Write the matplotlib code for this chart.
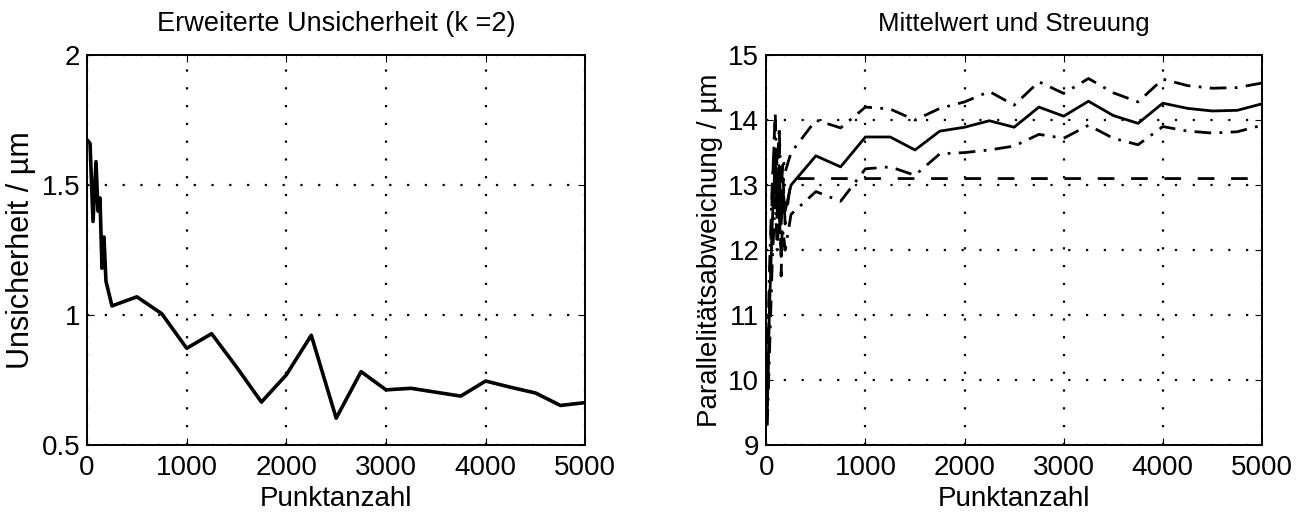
import numpy as np
import matplotlib
matplotlib.use("Agg")
import matplotlib.pyplot as plt

plt.rcParams['font.family'] = ['Liberation Sans', 'DejaVu Sans']

# Punktanzahl (shared x values)
n = [10, 30, 60, 90, 110, 130, 150, 170, 190,
     250, 500, 750, 1000, 1250, 1500, 1750, 2000, 2250, 2500,
     2750, 3000, 3250, 3500, 3750, 4000, 4250, 4500, 4750, 5000]

# left: erweiterte Unsicherheit / um
unsicherheit = [1.67, 1.66, 1.36, 1.59, 1.40, 1.45, 1.18, 1.30, 1.13,
                1.035, 1.07, 1.005, 0.872, 0.928, 0.80, 0.665, 0.77, 0.922, 0.603,
                0.782, 0.712, 0.718, 0.703, 0.688, 0.746, 0.722, 0.70, 0.652, 0.663]

# right: Mittelwert, obere/untere Streugrenze, Referenz
mittelwert = [9.5, 11.0, 12.4, 13.4, 12.6, 13.3, 12.4, 12.9, 12.6,
              13.0, 13.45, 13.28, 13.74, 13.74, 13.54, 13.83, 13.89, 13.99, 13.89,
              14.2, 14.06, 14.29, 14.07, 13.95, 14.26, 14.18, 14.14, 14.15, 14.25]
oben = [10.0, 11.6, 13.0, 14.0, 13.2, 13.9, 12.9, 13.4, 13.2,
        13.5, 14.0, 13.88, 14.2, 14.17, 14.0, 14.18, 14.28, 14.44, 14.23,
        14.59, 14.41, 14.64, 14.42, 14.28, 14.63, 14.53, 14.49, 14.5, 14.57]
unten = [9.3, 10.3, 11.8, 12.8, 12.0, 12.6, 11.9, 12.3, 12.0,
         12.55, 12.9, 12.75, 13.25, 13.28, 13.15, 13.48, 13.5, 13.54, 13.6,
         13.78, 13.72, 13.92, 13.72, 13.62, 13.9, 13.83, 13.8, 13.82, 13.92]
referenz = [9.6, 11.2, 12.9, 14.15, 12.5, 13.6, 11.6, 13.1, 12.4,
            13.1, 13.1, 13.1, 13.1, 13.1, 13.1, 13.1, 13.1, 13.1, 13.1,
            13.1, 13.1, 13.1, 13.1, 13.1, 13.1, 13.1, 13.1, 13.1, 13.1]

xticks = [0, 1000, 2000, 3000, 4000, 5000]
TICK_FS = 20

fig = plt.figure(figsize=(13.01, 5.15), dpi=100)
ax1 = fig.add_axes([0.0669, 0.136, 0.383, 0.757])
ax2 = fig.add_axes([0.589, 0.136, 0.381, 0.757])


def style(ax):
    ax.set_xlim(0, 5000)
    ax.set_xticks(xticks)
    ax.grid(True, color='black', linestyle=(0, (1, 7)), linewidth=1.6)
    ax.tick_params(direction='in', top=True, right=True, labelsize=TICK_FS, length=5)
    ax.tick_params(axis='x', pad=7)
    ax.tick_params(axis='y', pad=5)
    for s in ax.spines.values():
        s.set_linewidth(1.4)
    ax.set_xlabel('Punktanzahl', fontsize=20, labelpad=4)


ax1.plot(n, unsicherheit, color='black', linewidth=2.6)
style(ax1)
ax1.set_ylim(0.5, 2)
ax1.set_yticks([0.5, 1, 1.5, 2])
ax1.set_yticklabels(['0.5', '1', '1.5', '2'])
ax1.set_ylabel('Unsicherheit / µm', fontsize=22, labelpad=4)
ax1.set_title('Erweiterte Unsicherheit (k =2)', fontsize=19.5, pad=17)

ax2.plot(n, mittelwert, color='black', linewidth=2.0)
ax2.plot(n, oben, color='black', linewidth=2.0, linestyle=(0, (6, 3, 1, 3)))
ax2.plot(n, unten, color='black', linewidth=2.0, linestyle=(0, (6, 3, 1, 3)))
ax2.plot(n, referenz, color='black', linewidth=2.0, linestyle=(0, (6, 6)))
style(ax2)
ax2.set_ylim(9, 15)
ax2.set_yticks([9, 10, 11, 12, 13, 14, 15])
ax2.set_ylabel('Parallelitätsabweichung / µm', fontsize=20, labelpad=4)
ax2.set_title('Mittelwert und Streuung', fontsize=18.5, pad=17)

fig.savefig('out.png', dpi=100)
